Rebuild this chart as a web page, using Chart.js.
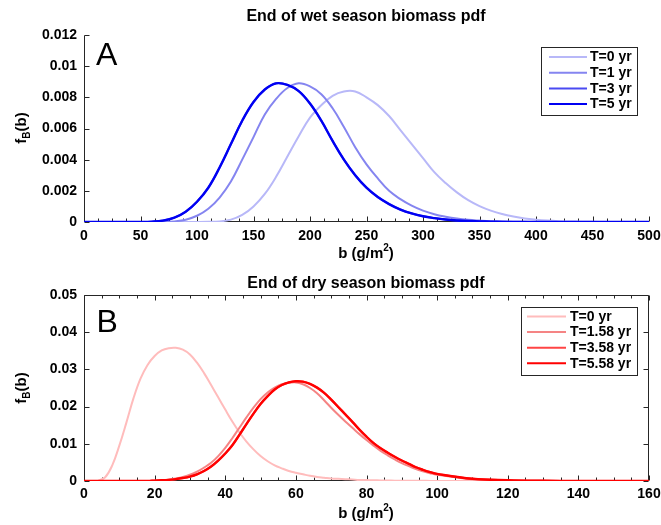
<!DOCTYPE html>
<html><head><meta charset="utf-8">
<script src="https://cdn.jsdelivr.net/npm/chart.js@4"></script>
<style>
html,body{margin:0;padding:0;background:#fff;}
#wrap{position:relative;width:661px;height:525px;overflow:hidden;background:#fff;}
canvas{position:absolute;left:0;top:0;}
</style></head><body>
<div id="wrap"><canvas id="c1" width="661" height="525"></canvas><canvas id="c2" width="661" height="525"></canvas></div>
<script>
// ---------- Panel A: end of wet season ----------
const wetB = [0,10,20,30,40,50,60,70,80,90,100,110,120,130,140,150,160,170,180,190,200,210,220,230,240,250,260,270,280,290,300,310,320,330,340,350,360,370,380,390,400,410,420,430,440,450,460,470,480,490,500];
const wetT0 = [0,0,0,0,0,0,0,0,0,0,0,0.00001,0.00004,0.00015,0.00045,0.0010,0.0018,0.0029,0.0042,0.0055,0.0067,0.0075,0.0081,0.00838,0.00838,0.0080,0.0075,0.0068,0.0059,0.0050,0.0041,0.0032,0.0025,0.0019,0.0014,0.00102,0.00073,0.00051,0.00035,0.00023,0.00015,0.00009,0.00005,0.00003,0.00002,0.00001,0,0,0,0,0];
const wetT1 = [0,0,0,0,0,0,0,0,0.00004,0.00015,0.0004,0.00085,0.00157,0.0026,0.0040,0.00545,0.0069,0.0079,0.0086,0.0089,0.0087,0.0082,0.0073,0.0061,0.0048,0.0037,0.0028,0.0020,0.00147,0.00105,0.00073,0.0005,0.00034,0.00022,0.00014,0.00009,0.00005,0.00003,0.00002,0.00001,0,0,0,0,0,0,0,0,0,0,0];
const wetT3 = [0,0,0,0,0,0,0.00002,0.00009,0.00028,0.00066,0.0013,0.0022,0.0035,0.0050,0.0065,0.0077,0.0085,0.0089,0.0088,0.0084,0.0076,0.0065,0.0052,0.0040,0.0030,0.0022,0.0016,0.00115,0.0008,0.00055,0.00037,0.00025,0.00016,0.0001,0.00006,0.00004,0.00002,0.00001,0,0,0,0,0,0,0,0,0,0,0,0,0];
const wetT5 = [0,0,0,0,0,0,0.00002,0.00009,0.00028,0.00066,0.0013,0.0022,0.0035,0.0050,0.0065,0.0077,0.0085,0.0089,0.0088,0.0084,0.0076,0.0065,0.0052,0.0040,0.0030,0.0022,0.0016,0.00115,0.0008,0.00055,0.00037,0.00025,0.00016,0.0001,0.00006,0.00004,0.00002,0.00001,0,0,0,0,0,0,0,0,0,0,0,0,0];
const wetLabels = ['T=0 yr','T=1 yr','T=3 yr','T=5 yr'];
const wetXTicks = [0,50,100,150,200,250,300,350,400,450,500];
const wetXTickLabels = ['0','50','100','150','200','250','300','350','400','450','500'];
const wetYTicks = [0,0.002,0.004,0.006,0.008,0.01,0.012];
const wetYTickLabels = ['0','0.002','0.004','0.006','0.008','0.01','0.012'];

// ---------- Panel B: end of dry season ----------
const dryB = [0,2,4,6,8,10,12,14,16,18,20,22,24,26,28,30,32,34,36,38,40,42,44,46,48,50,52,54,56,58,60,62,64,66,68,70,72,74,76,78,80,82,84,86,88,90,92,94,96,98,100,110,120,130,140,150,160];
const dryT0 = [0,0,0.0001,0.0010,0.0042,0.0095,0.0157,0.0222,0.0275,0.0312,0.0336,0.0351,0.0357,0.0358,0.0353,0.0340,0.0318,0.0290,0.0258,0.0225,0.0192,0.0160,0.0131,0.0106,0.0085,0.0067,0.0053,0.0042,0.0034,0.0027,0.0022,0.0018,0.0014,0.0011,0.0009,0.0007,0.0006,0.0005,0.0004,0.0003,0.00025,0.0002,0.00016,0.00013,0.0001,0.00008,0.00006,0.00005,0.00004,0.00003,0.00002,0.00001,0,0,0,0,0];
const dryT158 = [0,0,0,0,0,0,0,0,0,0,0.0001,0.0002,0.0004,0.0007,0.0011,0.0017,0.0025,0.0036,0.0049,0.0067,0.0089,0.0115,0.0143,0.0171,0.0197,0.0220,0.0238,0.0251,0.0260,0.0264,0.0265,0.0260,0.0250,0.0236,0.0217,0.0197,0.0178,0.0160,0.0143,0.0126,0.0110,0.0095,0.0081,0.0069,0.0058,0.0048,0.0040,0.0032,0.0026,0.0021,0.0017,0.0005,0.00015,0.00005,0.00001,0,0];
const dryT358 = [0,0,0,0,0,0,0,0,0,0,0.0001,0.0002,0.0003,0.0005,0.0008,0.0012,0.0018,0.0027,0.0039,0.0055,0.0074,0.0096,0.0124,0.0153,0.0181,0.0207,0.0228,0.0246,0.0258,0.0265,0.0268,0.0267,0.0261,0.0251,0.0237,0.0219,0.0199,0.0179,0.0159,0.0138,0.0119,0.0102,0.0088,0.0076,0.0065,0.0055,0.0046,0.0037,0.0030,0.0024,0.0019,0.0006,0.0002,0.00006,0.00002,0,0];
const dryT558 = [0,0,0,0,0,0,0,0,0,0,0.0001,0.0002,0.0003,0.0005,0.0008,0.0012,0.0018,0.0027,0.0039,0.0055,0.0074,0.0096,0.0124,0.0153,0.0181,0.0207,0.0228,0.0246,0.0258,0.0265,0.0268,0.0267,0.0261,0.0251,0.0237,0.0219,0.0199,0.0179,0.0159,0.0138,0.0119,0.0102,0.0088,0.0076,0.0065,0.0055,0.0046,0.0037,0.0030,0.0024,0.0019,0.0006,0.0002,0.00006,0.00002,0,0];
const dryLabels = ['T=0 yr','T=1.58 yr','T=3.58 yr','T=5.58 yr'];
const dryXTicks = [0,20,40,60,80,100,120,140,160];
const dryXTickLabels = ['0','20','40','60','80','100','120','140','160'];
const dryYTicks = [0,0.01,0.02,0.03,0.04,0.05];
const dryYTickLabels = ['0','0.01','0.02','0.03','0.04','0.05'];

const FONT = "'Liberation Sans', Arial, Helvetica, sans-serif";
const AXIS = '#262626';

function drawFrame(chart, o) {
  const ctx = chart.ctx, a = chart.chartArea, xs = chart.scales.x, ys = chart.scales.y;
  const L = Math.round(a.left) + 0.5, R = Math.round(a.right) - 0.5;
  const T = Math.round(a.top) + 0.5, B = Math.round(a.bottom) - 0.5;
  ctx.save();
  ctx.strokeStyle = AXIS; ctx.lineWidth = 1;
  ctx.beginPath();
  const isMajor = v => o.xMajor.some(m => Math.abs(m - v) < 1e-9);
  o.xMajor.forEach(v => {
    const p = Math.round(xs.getPixelForValue(v)) + 0.5;
    ctx.moveTo(p, B); ctx.lineTo(p, B - 5);
    if (o.box) { ctx.moveTo(p, T); ctx.lineTo(p, T + 5); }
  });
  for (let v = xs.min; v <= xs.max + 1e-9; v += o.xMinorStep) {
    if (isMajor(v)) continue;
    const p = Math.round(xs.getPixelForValue(v)) + 0.5;
    ctx.moveTo(p, B); ctx.lineTo(p, B - 3);
    if (o.box) { ctx.moveTo(p, T); ctx.lineTo(p, T + 3); }
  }
  o.yMajor.forEach(v => {
    const p = Math.round(ys.getPixelForValue(v)) + 0.5;
    ctx.moveTo(L, p); ctx.lineTo(L + 5, p);
    if (o.box) { ctx.moveTo(R, p); ctx.lineTo(R - 5, p); }
  });
  ctx.stroke();
  ctx.beginPath();
  ctx.moveTo(L, T); ctx.lineTo(L, B); ctx.lineTo(R, B);
  if (o.box) { ctx.lineTo(R, T); ctx.lineTo(L, T); }
  ctx.stroke();
  ctx.restore();
}

function drawLegend(chart, o) {
  const ctx = chart.ctx, lg = o.legend;
  ctx.save();
  ctx.fillStyle = '#fff';
  ctx.fillRect(lg.x, lg.y, lg.w, lg.h);
  ctx.strokeStyle = AXIS; ctx.lineWidth = 1;
  ctx.strokeRect(lg.x + 0.5, lg.y + 0.5, lg.w, lg.h);
  ctx.font = 'bold 14px ' + FONT;
  ctx.textBaseline = 'middle'; ctx.textAlign = 'left';
  chart.data.datasets.forEach((d, i) => {
    const y = lg.row0 + i * lg.dy;
    ctx.strokeStyle = d.borderColor; ctx.lineWidth = 2;
    ctx.beginPath(); ctx.moveTo(lg.l0, y); ctx.lineTo(lg.l1, y); ctx.stroke();
    ctx.fillStyle = '#000';
    ctx.fillText(d.label, lg.tx, y + 0.5);
  });
  ctx.restore();
}

function drawTexts(chart, o) {
  const ctx = chart.ctx;
  ctx.save();
  ctx.fillStyle = '#000';
  ctx.textBaseline = 'alphabetic';
  ctx.font = 'bold 16px ' + FONT; ctx.textAlign = 'center';
  ctx.fillText(o.title.text, o.title.x, o.title.y);
  ctx.font = '32px ' + FONT; ctx.textAlign = 'left';
  ctx.fillText(o.letter.text, o.letter.x, o.letter.y);
  const big = 'bold 15px ' + FONT, small = 'bold 10px ' + FONT;
  ctx.font = big; const w1 = ctx.measureText('b (g/m').width, w3 = ctx.measureText(')').width;
  ctx.font = small; const w2 = ctx.measureText('2').width;
  let x = o.xTitle.cx - (w1 + w2 + w3) / 2;
  ctx.textAlign = 'left';
  ctx.font = big; ctx.fillText('b (g/m', x, o.xTitle.y);
  ctx.font = small; ctx.fillText('2', x + w1, o.xTitle.y - 7);
  ctx.font = big; ctx.fillText(')', x + w1 + w2, o.xTitle.y);
  ctx.translate(o.yTitle.x, o.yTitle.cy);
  ctx.rotate(-Math.PI / 2);
  ctx.font = big; const a1 = ctx.measureText('f').width, a3 = ctx.measureText('(b)').width;
  ctx.font = small; const a2 = ctx.measureText('B').width;
  let s = -(a1 + a2 + a3) / 2;
  ctx.font = big; ctx.fillText('f', s, 0);
  ctx.font = small; ctx.fillText('B', s + a1, 4);
  ctx.font = big; ctx.fillText('(b)', s + a1 + a2, 0);
  ctx.restore();
}

const panelPlugin = {
  id: 'panel',
  beforeDatasetsDraw(chart, args, o) { drawFrame(chart, o); },
  afterDatasetsDraw(chart, args, o) { drawLegend(chart, o); drawTexts(chart, o); }
};

function makeChart(id, xs, series, labels, colors, widths, xr, yr, xTicks, xTickLabels, yTicks, yTickLabels, pad, xAxisH, xPad, panel) {
  const datasets = series.map((ys, k) => ({
    label: labels[k],
    data: xs.map((x, i) => ({ x: x, y: ys[i] })),
    borderColor: colors[k],
    borderWidth: widths[k],
    pointRadius: 0,
    fill: false,
    tension: 0.4,
    order: series.length - k
  }));
  const tickFont = { family: FONT, size: 14, weight: 'bold' };
  return new Chart(document.getElementById(id), {
    type: 'line',
    data: { datasets },
    options: {
      responsive: false, animation: false, devicePixelRatio: 1,
      layout: { padding: pad },
      plugins: { legend: { display: false }, title: { display: false }, tooltip: { enabled: false }, panel: panel },
      scales: {
        x: {
          type: 'linear', min: xr[0], max: xr[1],
          afterBuildTicks: s => { s.ticks = xTicks.map(v => ({ value: v })); },
          afterFit: s => { s.height = xAxisH; s.paddingLeft = 0; s.paddingRight = 0; },
          ticks: { callback: (v, i) => xTickLabels[i], font: tickFont, color: '#000', padding: xPad, maxRotation: 0, autoSkip: false },
          grid: { display: false, drawTicks: false },
          border: { display: false }
        },
        y: {
          type: 'linear', min: yr[0], max: yr[1],
          afterBuildTicks: s => { s.ticks = yTicks.map(v => ({ value: v })); },
          afterFit: s => { s.width = 84; s.paddingTop = 0; s.paddingBottom = 0; },
          ticks: { callback: (v, i) => yTickLabels[i], font: tickFont, color: '#000', padding: 7, autoSkip: false },
          grid: { display: false, drawTicks: false },
          border: { display: false }
        }
      }
    },
    plugins: [panelPlugin]
  });
}

makeChart('c1', wetB, [wetT0, wetT1, wetT3, wetT5], wetLabels,
  ['#b8b8f8', '#8585f0', '#4a4af2', '#0000f2'], [2, 2, 2, 2.4],
  [0, 500], [0, 0.012], wetXTicks, wetXTickLabels, wetYTicks, wetYTickLabels,
  { top: 35, right: 12, bottom: 263, left: 0 }, 40, 6,
  { box: false, xMajor: wetXTicks, yMajor: wetYTicks, xMinorStep: 12.5,
    legend: { x: 541, y: 47, w: 96, h: 68, l0: 549, l1: 587, tx: 590, row0: 57, dy: 15.7 },
    title: { text: 'End of wet season biomass pdf', x: 366, y: 21 },
    letter: { text: 'A', x: 96, y: 65 },
    xTitle: { cx: 366, y: 258 },
    yTitle: { x: 26, cy: 128 } });

makeChart('c2', dryB, [dryT0, dryT158, dryT358, dryT558], dryLabels,
  ['#ffbcbc', '#f58484', '#ff4545', '#ff0000'], [2, 2, 2, 2.4],
  [0, 160], [0, 0.05], dryXTicks, dryXTickLabels, dryYTicks, dryYTickLabels,
  { top: 295, right: 12, bottom: 0, left: 0 }, 44, 5,
  { box: true, xMajor: dryXTicks, yMajor: dryYTicks, xMinorStep: 5,
    legend: { x: 521, y: 307, w: 116, h: 68, l0: 527, l1: 566, tx: 570, row0: 316.5, dy: 15.6 },
    title: { text: 'End of dry season biomass pdf', x: 366, y: 288 },
    letter: { text: 'B', x: 96.5, y: 331.5 },
    xTitle: { cx: 366, y: 518 },
    yTitle: { x: 26, cy: 388 } });
</script>
</body></html>
